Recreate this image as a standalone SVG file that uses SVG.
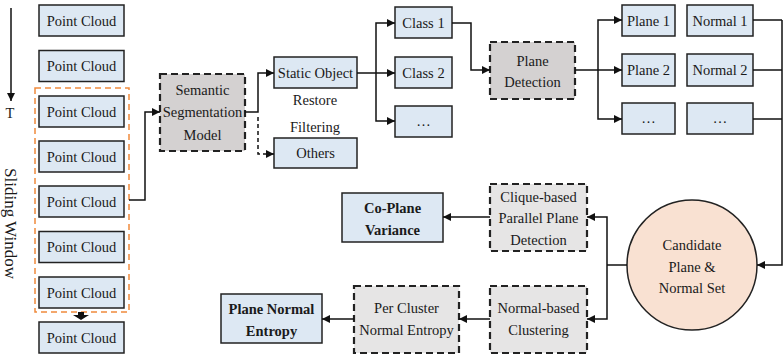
<svg xmlns="http://www.w3.org/2000/svg" width="783" height="358" viewBox="0 0 783 358">
  <defs>
    <marker id="arr" viewBox="0 0 10 10" refX="10" refY="5" markerWidth="8" markerHeight="8" markerUnits="userSpaceOnUse" orient="auto">
      <path d="M0,0 L10,5 L0,10 Z" fill="#111"/>
    </marker>
    <style>
      text { font-family: "Liberation Serif", "Times New Roman", serif; font-size: 14.5px; fill: #1a1a1a; text-anchor: middle; }
      .bold { font-weight: bold; }
      .box { fill: #dde8f3; stroke: #222; stroke-width: 1.5; }
      .proc { fill: #d4d1d1; stroke: #222; stroke-width: 2.2; stroke-dasharray: 7 4; }
      .proc2 { fill: #e6e5e5; stroke: #222; stroke-width: 2.2; stroke-dasharray: 7 4; }
      .ln { fill: none; stroke: #111; stroke-width: 1.5; }
      .arr { marker-end: url(#arr); }
      .dash { stroke-dasharray: 4 3; }
    </style>
  </defs>

  <!-- time axis and sliding window -->
  <g id="time-axis">
    <line class="ln arr" x1="11" y1="8" x2="11" y2="101"/>
    <text x="10" y="118">T</text>
  </g>
  <g id="sliding-window">
    <rect x="35" y="88" width="94" height="224" fill="none" stroke="#f08a3c" stroke-width="1.5" stroke-dasharray="6 4"/>
    <text transform="translate(5,223.5) rotate(90)" style="font-size:17px">Sliding Window</text>
    <path d="M78,312 H84 V315 H89 L81,320 L73,315 H78 Z" fill="#111"/>
  </g>

  <!-- point cloud frames -->
  <g id="pc1"><rect class="box" x="39" y="5" width="85" height="31"/><text x="81.5" y="25.5">Point Cloud</text></g>
  <g id="pc2"><rect class="box" x="39" y="50.5" width="85" height="31"/><text x="81.5" y="71">Point Cloud</text></g>
  <g id="pc3"><rect class="box" x="39" y="96" width="85" height="31"/><text x="81.5" y="116.5">Point Cloud</text></g>
  <g id="pc4"><rect class="box" x="39" y="141" width="85" height="31"/><text x="81.5" y="161.5">Point Cloud</text></g>
  <g id="pc5"><rect class="box" x="39" y="186" width="85" height="31"/><text x="81.5" y="206.5">Point Cloud</text></g>
  <g id="pc6"><rect class="box" x="39" y="231.5" width="85" height="31"/><text x="81.5" y="252">Point Cloud</text></g>
  <g id="pc7"><rect class="box" x="39" y="277" width="85" height="31"/><text x="81.5" y="297.5">Point Cloud</text></g>
  <g id="pc8"><rect class="box" x="39" y="322" width="85" height="31"/><text x="81.5" y="342.5">Point Cloud</text></g>

  <!-- segmentation stage -->
  <g id="seg-model">
    <rect class="proc" x="160" y="74" width="85" height="77"/>
    <text x="202.5" y="95">Semantic</text>
    <text x="202.5" y="117">Segmentation</text>
    <text x="202.5" y="140">Model</text>
  </g>
  <g id="static-object"><rect class="box" x="274" y="57" width="83" height="31"/><text x="315.5" y="77.5">Static Object</text></g>
  <g id="others"><rect class="box" x="274" y="138" width="83" height="30"/><text x="315.5" y="158">Others</text></g>
  <g id="lbl-restore"><text x="315" y="105">Restore</text></g>
  <g id="lbl-filtering"><text x="315" y="132">Filtering</text></g>

  <!-- classes -->
  <g id="class1"><rect class="box" x="395" y="7" width="57" height="31"/><text x="423.5" y="27.5">Class 1</text></g>
  <g id="class2"><rect class="box" x="395" y="57" width="57" height="31"/><text x="423.5" y="77.5">Class 2</text></g>
  <g id="class-more"><rect class="box" x="395" y="106" width="57" height="31"/><text x="423.5" y="126">…</text></g>

  <g id="plane-detection">
    <rect class="proc" x="490" y="42" width="85" height="57"/>
    <text x="532.5" y="66">Plane</text>
    <text x="532.5" y="87">Detection</text>
  </g>

  <!-- planes and normals -->
  <g id="plane1"><rect class="box" x="622" y="5" width="53" height="31"/><text x="648.5" y="25.5">Plane 1</text></g>
  <g id="plane2"><rect class="box" x="622" y="54" width="53" height="32"/><text x="648.5" y="75">Plane 2</text></g>
  <g id="plane-more"><rect class="box" x="622" y="103" width="53" height="31"/><text x="648.5" y="123">…</text></g>
  <g id="normal1"><rect class="box" x="687" y="5" width="66" height="31"/><text x="720" y="25.5">Normal 1</text></g>
  <g id="normal2"><rect class="box" x="687" y="54" width="66" height="32"/><text x="720" y="75">Normal 2</text></g>
  <g id="normal-more"><rect class="box" x="687" y="103" width="66" height="31"/><text x="720" y="123">…</text></g>

  <!-- candidate set and analyses -->
  <g id="candidate-set">
    <circle cx="692" cy="265" r="65" fill="#f9e1d2" stroke="#222" stroke-width="1.5"/>
    <text x="692" y="250">Candidate</text>
    <text x="692" y="272">Plane &amp;</text>
    <text x="692" y="293">Normal Set</text>
  </g>
  <g id="clique">
    <rect class="proc2" x="490" y="184" width="97" height="67"/>
    <text x="538.5" y="202">Clique-based</text>
    <text x="538.5" y="223">Parallel Plane</text>
    <text x="538.5" y="245">Detection</text>
  </g>
  <g id="co-plane-variance">
    <rect class="box" x="342" y="193" width="101" height="49"/>
    <text class="bold" x="392.5" y="213">Co-Plane</text>
    <text class="bold" x="392.5" y="235">Variance</text>
  </g>
  <g id="normal-clustering">
    <rect class="proc2" x="490" y="286" width="97" height="67"/>
    <text x="538.5" y="313">Normal-based</text>
    <text x="538.5" y="335">Clustering</text>
  </g>
  <g id="per-cluster">
    <rect class="proc2" x="354" y="286" width="105" height="67"/>
    <text x="406.5" y="313">Per Cluster</text>
    <text x="406.5" y="335">Normal Entropy</text>
  </g>
  <g id="plane-normal-entropy">
    <rect class="box" x="221" y="294" width="101" height="49"/>
    <text class="bold" x="271.5" y="314">Plane Normal</text>
    <text class="bold" x="271.5" y="336">Entropy</text>
  </g>

  <!-- connectors -->
  <g id="connectors">
    <path class="ln arr" d="M129,200 H145 V112 H160"/>
    <path class="ln arr" d="M245,112 H258 V73 H274"/>
    <path class="ln arr dash" d="M258,117 V154 H274"/>
    <path class="ln arr" d="M357,73 H395"/>
    <path class="ln arr" d="M376,73 V23 H395"/>
    <path class="ln arr" d="M376,73 V121 H395"/>
    <path class="ln arr" d="M452,23 H471 V70 H490"/>
    <path class="ln arr" d="M575,70 H622"/>
    <path class="ln arr" d="M598,70 V20 H622"/>
    <path class="ln arr" d="M598,70 V119 H622"/>
    <path class="ln" d="M753,20 H782"/>
    <path class="ln" d="M753,70 H782"/>
    <path class="ln" d="M753,119 H782"/>
    <path class="ln arr" d="M782,20 V265 H757"/>
    <path class="ln" d="M627,265 H607"/>
    <path class="ln arr" d="M607,265 V217 H587"/>
    <path class="ln arr" d="M607,265 V319 H587"/>
    <path class="ln arr" d="M490,217 H443"/>
    <path class="ln arr" d="M490,319 H459"/>
    <path class="ln arr" d="M354,319 H322"/>
  </g>
</svg>
